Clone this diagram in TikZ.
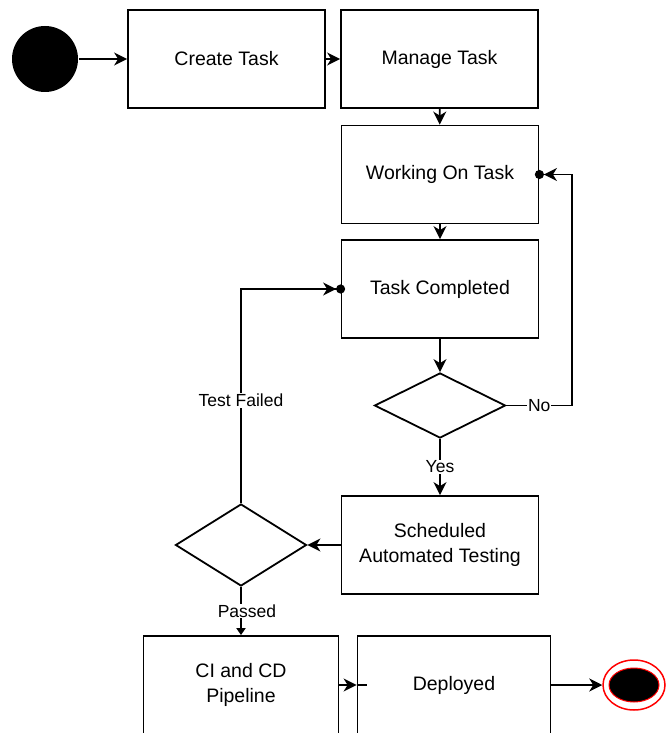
\documentclass[tikz,border=0pt]{standalone}
\usepackage{fontspec}
\setmainfont{Liberation Sans}
\usetikzlibrary{arrows.meta}
\usetikzlibrary{shapes.geometric}
\tikzset{box/.style = {draw, rectangle, minimum width = 197pt, minimum height = 98pt, inner sep = 0, align = center, font = \fontsize{19.5}{25}\selectfont}}
\tikzset{decision/.style = {draw, diamond, inner sep = 0, minimum width = 131pt, minimum height = 65pt}}
\tikzset{lbl/.style = {fill = white, inner sep = 1pt, font = \fontsize{17.5}{20}\selectfont}}
\tikzset{flow/.style = {-{Stealth[length = 13pt, width = 13pt, inset = 4pt]}}}
\tikzset{back/.style = {-{Stealth[length = 13pt, width = 13pt, inset = 4pt] Circle[length = 9pt]}, shorten > = -4.5pt}}
\definecolor{endred}{rgb}{1, 0, 0}

\begin{document}
\begin{tikzpicture}[x = 1pt, y = -1pt, line width = 1.8pt]
      \useasboundingbox (0, 0) rectangle (665, 733);
      \node [fill, circle, inner sep = 0, minimum size = 66pt] (start) at (45, 59) {};
      \node [box] (create) at (226.5, 59) {Create Task};
      \node [box] (manage) at (439.5, 59) {Manage Task};
      \node [box] (working) at (440, 174.5) {Working On Task};
      \node [box] (completed) at (440, 289) {Task Completed};
      \node [decision] (check) at (440, 405.5) {};
      \node [box] (testing) at (440, 545) {Scheduled\\Automated Testing};
      \node [decision, minimum height = 82pt] (result) at (241, 545) {};
      \node [box, minimum width = 195pt] (pipeline) at (241, 685) {CI and CD\\Pipeline};
      \node [box, minimum width = 193pt] (deployed) at (454, 685) {Deployed};
      % final state
      \node [ellipse, draw = endred, line width = 1.5pt, minimum width = 62pt, minimum height = 50pt] (stop) at (634, 685) {};
      \node [ellipse, fill, draw = endred, line width = 1pt, minimum width = 50pt, minimum height = 34pt] (stopin) at (stop) {};
      \coordinate (noturn) at (572, 405.5);
      \draw [flow] (start) -- (create);
      \draw [flow] (create) -- (manage);
      \draw [flow] (manage) -- (working);
      \draw [flow] (working) -- (completed);
      \draw [flow] (completed) -- (check);
      \draw [flow] (check) -- node [lbl] {Yes} (testing);
      \draw [back] (check.east) -- node [lbl] {No} (noturn) |- (working.east);
      \draw [flow] (testing) -- (result);
      \draw [back] (result.north) |- node [lbl, pos = 0.24] {Test Failed} (completed.west);
      \draw [-{Triangle[length = 7pt, width = 9pt]}] (result) -- node [lbl, xshift = 6pt] {Passed} (pipeline);
      \draw [flow] (pipeline) -- (deployed);
      \draw (deployed.west) -- ++(10, 0);
      \draw [flow] (deployed) -- (stop);
    \end{tikzpicture}
\end{document}
